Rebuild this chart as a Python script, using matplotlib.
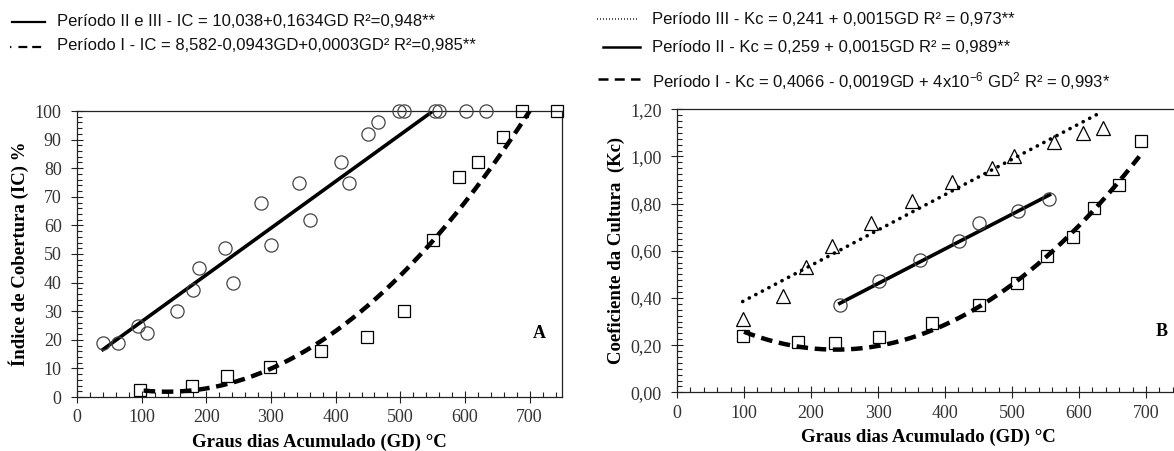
import numpy as np
import matplotlib
matplotlib.use("Agg")
import matplotlib.pyplot as plt
from matplotlib.lines import Line2D
from matplotlib.ticker import MultipleLocator, FixedLocator, FixedFormatter

plt.rcParams['mathtext.fontset'] = 'custom'
plt.rcParams['mathtext.rm'] = 'Liberation Sans'
plt.rcParams['mathtext.it'] = 'Liberation Sans:italic'

# ---------------- Data: panel A (Índice de Cobertura) ----------------
a_circ_x = [40, 63, 95, 109, 154, 180, 188, 229, 242, 285, 300, 344, 360, 408, 420,
            450, 465, 498, 506, 554, 560, 602, 632]
a_circ_y = [19, 19, 25, 22.5, 30, 37.5, 45, 52, 40, 68, 53, 75, 62, 82, 75,
            92, 96, 100, 100, 100, 100, 100, 100]
a_sq_x = [97, 178, 232, 299, 377, 448, 505, 550, 590, 620, 658, 688, 743]
a_sq_y = [2.5, 4, 7.5, 10.5, 16, 21, 30, 55, 77, 82, 91, 100, 100]
# regression lines (polynomial coefficients, highest degree first) and x-range
a_lin_coef = [0.1634, 10.038]
a_lin_range = [40, 551]
a_quad_coef = [0.000312, -0.0868, 7.88]
a_quad_range = [103, 700]

# ---------------- Data: panel B (Kc) ----------------
b_tri_x = [98, 158, 192, 232, 289, 350, 411, 470, 503, 562, 606, 636]
b_tri_y = [0.31, 0.41, 0.53, 0.62, 0.72, 0.81, 0.89, 0.95, 1.00, 1.06, 1.10, 1.12]
b_circ_x = [243, 302, 362, 421, 451, 509, 555]
b_circ_y = [0.37, 0.47, 0.56, 0.64, 0.72, 0.77, 0.82]
b_sq_x = [99, 181, 236, 302, 380, 451, 507, 552, 591, 622, 660, 692]
b_sq_y = [0.24, 0.215, 0.21, 0.235, 0.295, 0.37, 0.465, 0.58, 0.66, 0.78, 0.88, 1.065]
b_lin3_coef = [0.0015, 0.238]
b_lin3_range = [98, 626]
b_lin2_coef = [0.00147, 0.020]
b_lin2_range = [243, 556]
b_quad_coef = [4e-6, -0.0019, 0.4066]
b_quad_range = [100, 690]

a_yticks = [0, 10, 20, 30, 40, 50, 60, 70, 80, 90, 100]
b_yticks = [0.0, 0.2, 0.4, 0.6, 0.8, 1.0, 1.2]
b_yticklabels = ["0,00", "0,20", "0,40", "0,60", "0,80", "1,00", "1,20"]
x_ticks = [0, 100, 200, 300, 400, 500, 600, 700]

leg_a = ["Período II e III - IC = 10,038+0,1634GD R²=0,948**",
         "Período I - IC = 8,582-0,0943GD+0,0003GD² R²=0,985**"]
leg_b = ["Período III - Kc = 0,241 + 0,0015GD R² = 0,973**",
         "Período II - Kc = 0,259 + 0,0015GD R² = 0,989**",
         "Período I - Kc = 0,4066 - 0,0019GD + 4x10$^{\\mathrm{-6}}$ GD$^{\\mathrm{2}}$ R² = 0,993*"]

# ---------------- Figure ----------------
W, H = 1174, 451
fig = plt.figure(figsize=(W / 100, H / 100), dpi=100)

def px(x0, y0, x1, y1):
    return [x0 / W, 1 - y1 / H, (x1 - x0) / W, (y1 - y0) / H]

serif = 'Liberation Serif'
sans = ['Liberation Sans', 'DejaVu Sans']

axA = fig.add_axes(px(77, 111, 562, 397))
axB = fig.add_axes(px(677, 109.3, 1179.5, 392.3))

def style(ax):
    for s in ax.spines.values():
        s.set_linewidth(0.9)
        s.set_color('#222222')
    ax.tick_params(which='major', direction='inout', length=8, width=0.8,
                   labelsize=13, pad=5, colors='#222222', labelcolor='#333333')
    ax.tick_params(which='minor', direction='in', length=3.5, width=0.8, colors='#222222')
    ax.tick_params(axis='y', which='major', pad=7)
    for lab in ax.get_xticklabels() + ax.get_yticklabels():
        lab.set_fontfamily(serif)
    ax.xaxis.set_minor_locator(MultipleLocator(20))

mk = dict(linestyle='none', markerfacecolor='none', clip_on=False, zorder=4)

# ---- Panel A ----
axA.set_xlim(0, 750)
axA.set_ylim(0, 100)
axA.set_xticks(x_ticks)
axA.set_yticks(a_yticks)
axA.yaxis.set_minor_locator(MultipleLocator(2))
xs = np.linspace(*a_lin_range, 200)
axA.plot(xs, np.polyval(a_lin_coef, xs), color='black', lw=2.6, zorder=3)
xs = np.linspace(*a_quad_range, 300)
axA.plot(xs, np.polyval(a_quad_coef, xs), color='black', lw=3.2,
         dashes=(2.6, 1.5), zorder=3)
axA.plot(a_circ_x, a_circ_y, marker='o', markersize=9.5, markeredgecolor='#444444',
         markeredgewidth=0.9, **mk)
axA.plot(a_sq_x, a_sq_y, marker='s', markersize=9, markeredgecolor='black',
         markeredgewidth=0.9, **mk)
style(axA)
axA.set_xlabel("Graus dias Acumulado (GD) °C", fontfamily=serif, fontweight='bold',
               fontsize=13.5, labelpad=5)
axA.set_ylabel("Índice de Cobertura (IC) %", fontfamily=serif, fontweight='bold',
               fontsize=13.5, labelpad=4)
fig.text(539 / W, 1 - 334 / H, "A", fontfamily=serif, fontweight='bold',
         fontsize=13, ha='center', va='center')

# ---- Panel B ----
axB.set_xlim(0, 750)
axB.set_ylim(0, 1.2)
axB.set_xticks(x_ticks)
axB.yaxis.set_major_locator(FixedLocator(b_yticks))
axB.yaxis.set_major_formatter(FixedFormatter(b_yticklabels))
axB.yaxis.set_minor_locator(MultipleLocator(0.025))
xs = np.linspace(*b_lin3_range, 200)
axB.plot(xs, np.polyval(b_lin3_coef, xs), color='black', lw=2.6,
         linestyle=(0, (0.05, 2.0)), dash_capstyle='round', zorder=3)
xs = np.linspace(*b_lin2_range, 200)
axB.plot(xs, np.polyval(b_lin2_coef, xs), color='black', lw=2.6, zorder=3)
xs = np.linspace(*b_quad_range, 300)
axB.plot(xs, np.polyval(b_quad_coef, xs), color='black', lw=3.2,
         dashes=(2.6, 1.5), zorder=3)
axB.plot(b_tri_x, b_tri_y, marker='^', markersize=10, markeredgecolor='black',
         markeredgewidth=0.9, **mk)
axB.plot(b_circ_x, b_circ_y, marker='o', markersize=9.5, markeredgecolor='#444444',
         markeredgewidth=0.9, **mk)
axB.plot(b_sq_x, b_sq_y, marker='s', markersize=9, markeredgecolor='black',
         markeredgewidth=0.9, **mk)
style(axB)
axB.set_xlabel("Graus dias Acumulado (GD) °C", fontfamily=serif, fontweight='bold',
               fontsize=13.5, labelpad=5)
axB.set_ylabel("Coeficiente da Cultura  (Kc)", fontfamily=serif, fontweight='bold',
               fontsize=13.5, labelpad=4)
fig.text(1162 / W, 1 - 332 / H, "B", fontfamily=serif, fontweight='bold',
         fontsize=13, ha='center', va='center')

# ---- Legends (drawn above panels) ----
def seg(x0, x1, y, color='black', **kw):
    fig.add_artist(Line2D([x0 / W, x1 / W], [1 - y / H, 1 - y / H],
                          transform=fig.transFigure, color=color, **kw))

def ltxt(x, y, s):
    fig.text(x / W, 1 - y / H, s, family=sans, fontsize=12, va='center', ha='left',
             color='#111111')

seg(12, 45, 22, lw=1.6)
ltxt(57, 21, leg_a[0])
seg(10, 45, 47, lw=1.6, dashes=(0.6, 3.2, 4, 2.2, 4, 2.2, 4, 2.2))
ltxt(57, 46, leg_a[1])

seg(597, 638, 19, lw=1.2, dashes=(0.6, 1.2), color='#333333')
ltxt(652, 20, leg_b[0])
seg(603, 640, 47, lw=1.8)
ltxt(652, 48, leg_b[1])
seg(598, 640, 79, lw=1.8, dashes=(4, 2.5))
ltxt(652, 81, leg_b[2])

fig.savefig("out.png", dpi=100)
